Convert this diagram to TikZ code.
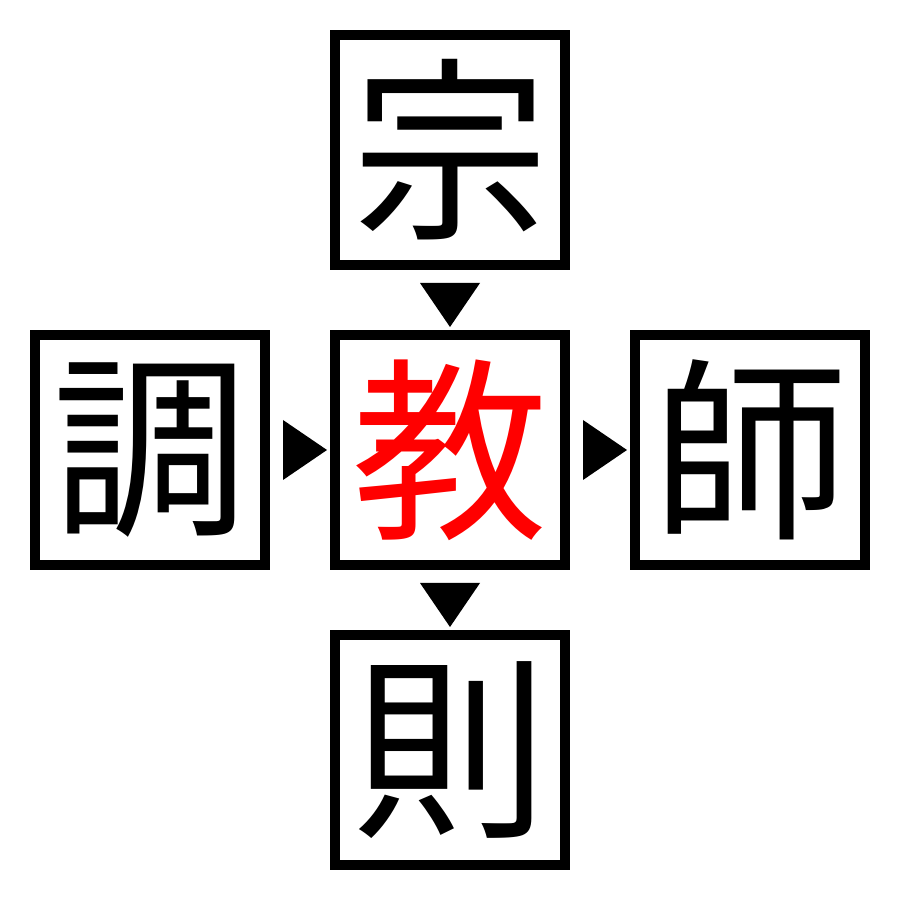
\documentclass[tikz,border=0pt]{standalone}
\usepackage{fontspec}
\newfontfamily\cjk{Noto Sans CJK JP}
\usetikzlibrary{calc}
\tikzset{
  charbox/.style={draw=black, line width=5pt, minimum size=115pt, inner sep=0pt, fill=white,
    font=\cjk\fontsize{98pt}{98pt}\selectfont},
  tri/.style={fill=black}
}
\begin{document}
\begin{tikzpicture}[x=0.5pt,y=0.5pt]
\useasboundingbox[fill=white] (0,0) rectangle (900,900);
\node[charbox] (top) at (450,750) {宗};
\node[charbox] (left) at (150,450) {調};
\node[charbox, text=red] (mid) at (450,450) {教};
\node[charbox] (right) at (750,450) {師};
\node[charbox] (bot) at (450,150) {則};
% top -> mid
\fill[tri] ($(mid.north)+(0,3)$) -- ($(top.south)+(30,-13)$) -- ($(top.south)+(-30,-13)$) -- cycle;
% left -> mid
\fill[tri] ($(mid.west)+(-3,0)$) -- ($(left.east)+(13,30)$) -- ($(left.east)+(13,-30)$) -- cycle;
% mid -> right
\fill[tri] ($(right.west)+(-3,0)$) -- ($(mid.east)+(13,30)$) -- ($(mid.east)+(13,-30)$) -- cycle;
% mid -> bot
\fill[tri] ($(bot.north)+(0,3)$) -- ($(mid.south)+(30,-13)$) -- ($(mid.south)+(-30,-13)$) -- cycle;
\end{tikzpicture}
\end{document}
